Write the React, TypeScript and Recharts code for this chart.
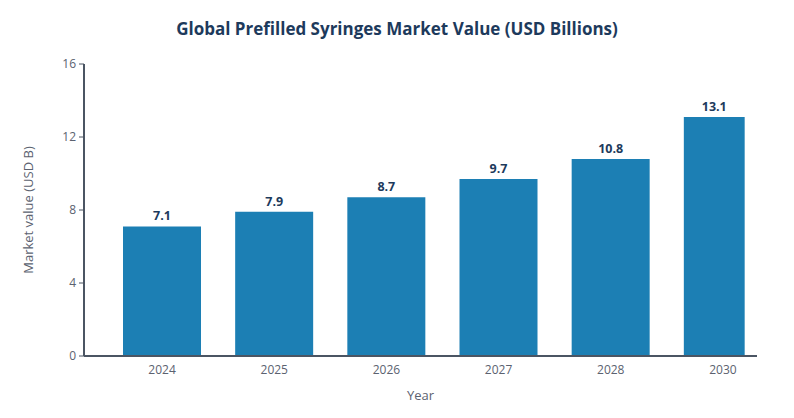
import { Bar, BarChart, LabelList, Rectangle, XAxis, YAxis } from "recharts";

const years = ["2024", "2025", "2026", "2027", "2028", "2030"];
const marketValue = [7.1, 7.9, 8.7, 9.7, 10.8, 13.1];
const yTicks = [0, 4, 8, 12, 16];

const data = years.map((year, i) => ({ year, value: marketValue[i] }));

const FONT = "'Open Sans', 'Noto Sans', sans-serif";
const AXIS = "#4b5563";
const TEXT = "#5b6270";
const NAVY = "#1d3a5c";
const BAR = "#1c7fb4";
// the last bar in the reference is drawn narrower than the others
const LAST_RATIO = 0.78;

const barWidth = (width: number, index: number) =>
  index === data.length - 1 ? width * LAST_RATIO : width;

function BarShape(props: any) {
  return <Rectangle {...props} width={barWidth(props.width, props.index)} />;
}

function TopLabel(props: any) {
  const { x, y, width, value, index } = props;
  const w = barWidth(width, index);
  return (
    <text
      x={x + w / 2}
      y={y - 6}
      textAnchor="middle"
      fill={NAVY}
      fontSize={12.5}
      fontWeight={700}
      fontFamily={FONT}
    >
      {value}
    </text>
  );
}

export default function App() {
  return (
    <div style={{ position: "absolute", left: 0, top: 0, width: 794, height: 418, background: "#fff", fontFamily: FONT }}>
      <div
        style={{
          position: "absolute",
          top: 17,
          left: 0,
          width: 794,
          textAlign: "center",
          fontSize: 17,
          fontWeight: 700,
          color: NAVY,
        }}
      >
        Global Prefilled Syringes Market Value (USD Billions)
      </div>
      <BarChart
        width={794}
        height={418}
        data={data}
        margin={{ top: 64, right: 37, bottom: 12, left: 24 }}
      >
        <XAxis
          dataKey="year"
          height={50}
          padding={{ left: 22, right: -22 }}
          tickLine={false}
          tickSize={0}
          tickMargin={9}
          axisLine={{ stroke: AXIS, strokeWidth: 2 }}
          tick={{ fill: TEXT, fontSize: 12, fontFamily: FONT }}
          label={{ value: "Year", position: "insideBottom", offset: 6, fill: TEXT, fontSize: 13, fontFamily: FONT }}
        />
        <YAxis
          width={60}
          domain={[0, 16]}
          ticks={yTicks}
          tickSize={5}
          tickMargin={3}
          axisLine={{ stroke: AXIS, strokeWidth: 2 }}
          tickLine={{ stroke: AXIS }}
          tick={{ fill: TEXT, fontSize: 12, fontFamily: FONT }}
          label={{
            value: "Market value (USD B)",
            angle: -90,
            position: "insideLeft",
            offset: 4,
            style: { textAnchor: "middle" },
            fill: TEXT,
            fontSize: 13,
            fontFamily: FONT,
          }}
        />
        <Bar dataKey="value" fill={BAR} barSize={78} shape={BarShape} isAnimationActive={false}>
          <LabelList dataKey="value" content={TopLabel} />
        </Bar>
      </BarChart>
    </div>
  );
}
